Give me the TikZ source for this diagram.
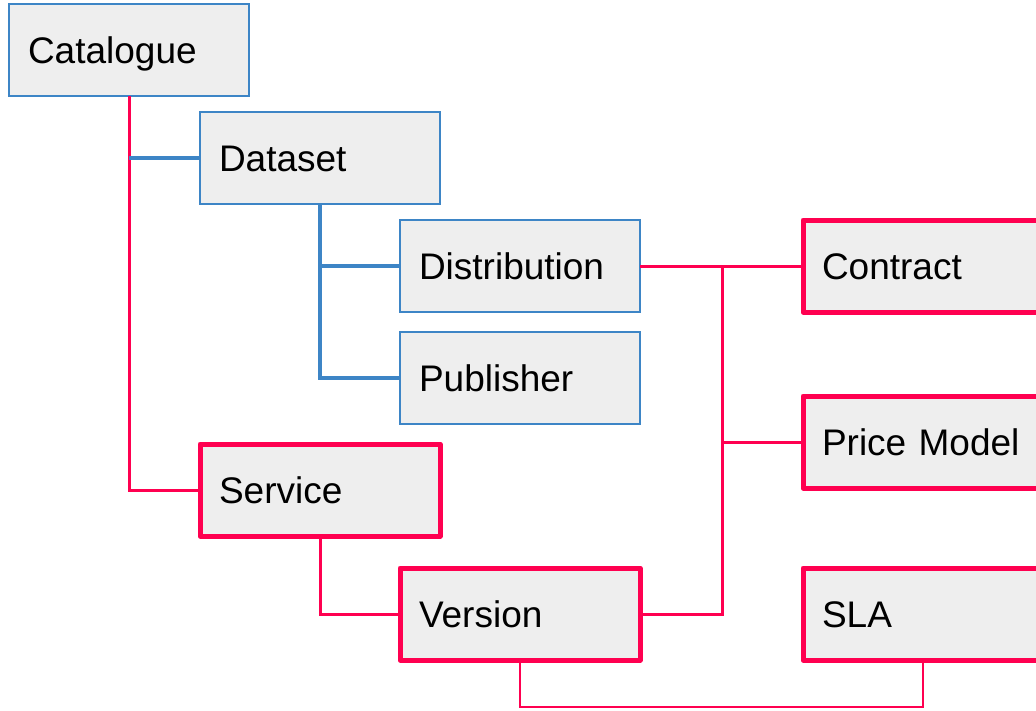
\documentclass[tikz,border=0pt]{standalone}
\usepackage{fontspec}
\setmainfont{Liberation Sans}
\definecolor{boxblue}{RGB}{61,133,198}
\definecolor{boxred}{RGB}{255,0,80}
\definecolor{boxfill}{RGB}{238,238,238}
\tikzset{
  basebox/.style={rectangle, fill=boxfill, anchor=north west,
    minimum width=240pt, minimum height=92pt, text width=202pt,
    inner xsep=19pt, inner ysep=0pt, outer sep=0pt, align=left,
    text height=27pt, text depth=0pt,
    font=\fontsize{37}{44}\selectfont},
  bluebox/.style={basebox, draw=boxblue, line width=2pt},
  redbox/.style={basebox, draw=boxred, line width=5pt, line join=round},
  blueline/.style={draw=boxblue, line width=3.5pt},
  redline/.style={draw=boxred, line width=3pt},
  thinred/.style={draw=boxred, line width=2.5pt}
}
\begin{document}
\begin{tikzpicture}[x=1pt,y=-1pt]
\useasboundingbox (0,0) rectangle (1036,710);
\clip (0,0) rectangle (1036,710);
\fill[white] (0,0) rectangle (1036,710);
\coordinate (vsplit) at (722,266);
\coordinate (lowcorner) at (520,707);
\node[bluebox] (cat) at (9,4) {Catalogue};
\node[bluebox] (ds) at (200,112) {Dataset};
\node[bluebox] (dist) at (400,220) {Distribution};
\node[bluebox] (pub) at (400,332) {Publisher};
\node[redbox] (serv) at (200,444) {Service};
\node[redbox] (ver) at (400,568) {Version};
\node[redbox] (con) at (803,220) {Contract};
\node[redbox] (price) at (803,396) {Price Model};
\node[redbox] (sla) at (803,568) {SLA};
\draw[redline] (cat.south) |- (serv.west);
\draw[blueline] (cat.south |- ds.west) -- (ds.west);
\draw[blueline] (ds.south) |- (pub.west);
\draw[blueline] (ds.south |- dist.west) -- (dist.west);
\draw[redline] (serv.south) |- (ver.west);
\draw[redline] (dist.east) -- (con.west);
\draw[redline] (vsplit) |- (ver.east);
\draw[redline] (vsplit |- price.west) -- (price.west);
\draw[thinred] (ver.south) -- (ver.south |- lowcorner) -| (sla.south);
\end{tikzpicture}
\end{document}
